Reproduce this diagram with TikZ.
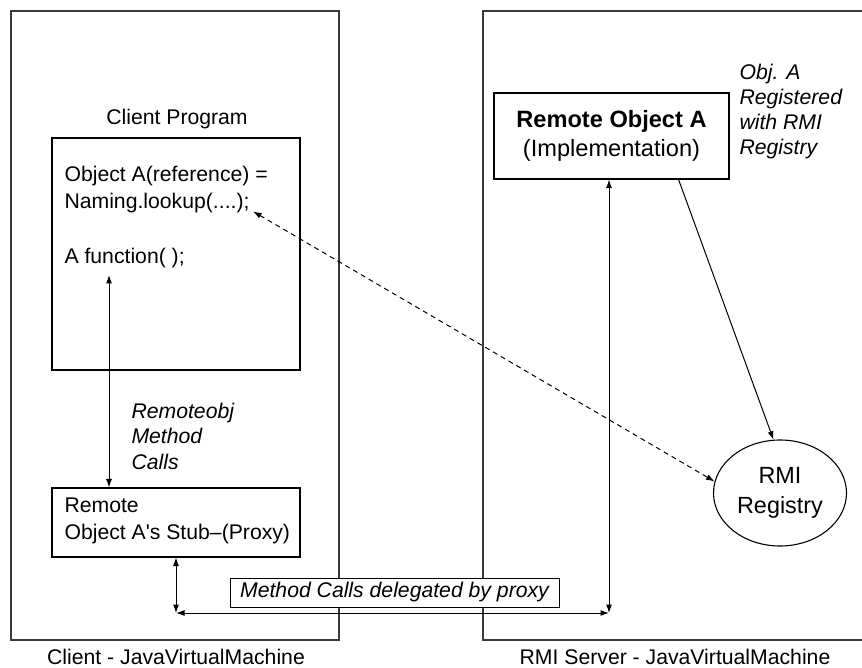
\documentclass[tikz,border=0pt]{standalone}
\usepackage{fontspec}
\setmainfont{Liberation Sans}
\usetikzlibrary{positioning,arrows.meta,shapes.geometric}
\definecolor{cK}{HTML}{3A3A3A}

\begin{document}
\begin{tikzpicture}[x=1pt,y=-1pt,font=\fontsize{21.2}{27}\selectfont,
  box/.style={draw,line width=1.1pt,inner sep=0pt},
  link/.style={line width=1pt,{Latex[length=8.5pt,width=6pt]}-{Latex[length=8.5pt,width=6pt]}},
  note/.style={anchor=west,align=left,font=\fontsize{21.2}{25}\selectfont\itshape}]
\useasboundingbox (0,0) rectangle (862,668);
% --- the two virtual machines ---
\draw[cK,line width=1.4pt] (11,11) rectangle (339,640);
\draw[cK,line width=1.4pt] (870,11) -- (483,11) -- (483,640) -- (870,640);
\node (cjvm) at (176,657) {Client - JavaVirtualMachine};
\node (sjvm) at (675,657) {RMI Server - JavaVirtualMachine};
% --- client side ---
\node (progtitle) at (177,119) {Client Program};
\node[box,minimum width=248pt,minimum height=232pt] (prog) at (176,254) {};
\node[anchor=west] (obj1) at (61,176) {Object A(reference) =};
\node[anchor=west] (nam) at (61,203) {Naming.lookup(....);};
\node[anchor=west] (func) at (61,258) {A function( );};
\node[box,minimum width=248pt,minimum height=69pt] (stub) at (176,522.5) {};
\node[anchor=west,align=left] (stubtxt) at (61,520.5) {Remote\\Object A\textquotesingle s Stub--(Proxy)};
\node[note,font=\fontsize{21.2}{25.5}\selectfont\itshape] (rmc) at (128,436) {Remoteobj\\Method\\Calls};
\coordinate (fa) at (109,275);
\draw[link] (fa) -- (stub.north -| fa);
% --- server side ---
\node[box,minimum width=235pt,minimum height=86pt,align=center,font=\fontsize{23.6}{29}\selectfont] (remobj) at (611.5,136) {\textbf{Remote Object A}\\(Implementation)};
\node[note] (regnote) at (736,112) {Obj. A\\Registered\\with RMI\\Registry};
\node[draw,ellipse,line width=1.1pt,minimum width=133pt,minimum height=106pt,inner sep=0pt,align=center,font=\fontsize{23.4}{30}\selectfont] (reg) at (780,493) {RMI\\Registry};
\draw[line width=1pt,-{Latex[length=8.5pt,width=6pt]}] (remobj.-33) -- (reg.97);
% --- lookup and delegated calls ---
\draw[link,dash pattern=on 5pt off 4pt] (nam.-5) -- (reg.170);
\coordinate (lc) at (176,613);
\coordinate (rc) at (609,613);
\draw[link] (stub.south) -- (lc);
\draw[link] (lc) -- (rc);
\draw[link] (rc) -- (remobj.south -| rc);
\node[draw,fill=white,line width=1pt,font=\fontsize{21.2}{27}\selectfont\itshape,minimum width=329pt,minimum height=29pt,inner sep=0pt] (deleg) at (394.5,592.5) {Method Calls delegated by proxy};
\end{tikzpicture}
\end{document}
